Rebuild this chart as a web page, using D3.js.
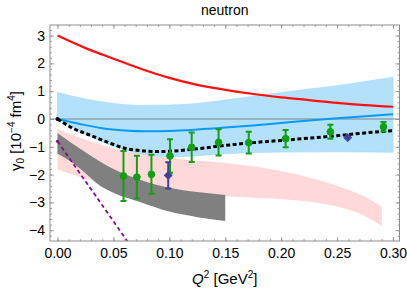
<!DOCTYPE html>
<html>
<head>
<meta charset="utf-8">
<script src="https://cdn.jsdelivr.net/npm/d3@7"></script>
<style>
  body { margin: 0; background: #fff; }
  text { font-family: "Liberation Sans", Arial, sans-serif; }
</style>
</head>
<body>
<svg></svg>
<script>
// curves, Q2 in GeV^2, gamma0 in 1e-4 fm^4
const redLine = [[0,3.0],[0.025,2.55],[0.05,2.17],[0.075,1.8],[0.1,1.48],[0.125,1.23],[0.15,1.05],
                 [0.175,0.9],[0.2,0.78],[0.225,0.68],[0.25,0.58],[0.275,0.5],[0.3,0.44]];
const blueLine = [[0,0],[0.02,-0.18],[0.04,-0.33],[0.06,-0.41],[0.08,-0.44],[0.1,-0.43],[0.125,-0.38],
                  [0.15,-0.31],[0.175,-0.23],[0.2,-0.14],[0.225,-0.05],[0.25,0.03],[0.275,0.1],[0.3,0.17]];
const blueBandUp = [[0,0.95],[0.025,0.72],[0.05,0.56],[0.075,0.49],[0.1,0.5],[0.125,0.56],[0.15,0.68],
                    [0.175,0.82],[0.2,0.95],[0.225,1.08],[0.25,1.2],[0.275,1.35],[0.3,1.5]];
const blueBandLo = [[0,0],[0.025,-0.55],[0.05,-0.98],[0.075,-1.25],[0.1,-1.36],[0.125,-1.32],[0.15,-1.25],
                    [0.2,-1.19],[0.25,-1.18],[0.3,-1.2]];
const pinkUp = [[0,-0.35],[0.025,-0.75],[0.05,-1.05],[0.075,-1.25],[0.1,-1.4],[0.125,-1.5],[0.15,-1.58],
                [0.175,-1.7],[0.2,-1.88],[0.225,-2.1],[0.25,-2.4],[0.275,-2.8],[0.29,-3.15]];
const pinkLo = [[0,-1.82],[0.025,-2.15],[0.05,-2.4],[0.075,-2.55],[0.1,-2.65],[0.125,-2.72],[0.15,-2.78],
                [0.175,-2.83],[0.2,-2.88],[0.225,-2.98],[0.25,-3.15],[0.275,-3.5],[0.29,-3.85]];
const grayUp = [[0,-0.5],[0.025,-1.2],[0.038,-1.53],[0.05,-1.8],[0.075,-2.2],[0.1,-2.47],[0.125,-2.63],[0.15,-2.73]];
const grayLo = [[0,-1.24],[0.015,-1.62],[0.025,-1.95],[0.038,-2.4],[0.05,-2.65],[0.075,-3.0],[0.1,-3.33],[0.125,-3.53],[0.15,-3.67]];
const purpleLine = [[0,-0.8],[0.02,-1.95],[0.04,-3.1],[0.065,-4.55]];
const blackLine = [[0,0],[0.014,-0.34],[0.029,-0.58],[0.044,-0.82],[0.06,-1.05],[0.075,-1.14],[0.09,-1.17],
                   [0.1,-1.16],[0.125,-1.07],[0.15,-0.95],[0.175,-0.85],[0.2,-0.77],[0.225,-0.69],
                   [0.25,-0.6],[0.275,-0.5],[0.3,-0.42]];

// data points: Q2, value, error
const greenQ2  = [0.059, 0.071, 0.084, 0.1006, 0.12, 0.144, 0.171, 0.204, 0.244, 0.2915];
const greenVal = [-2.05, -2.09, -1.99, -1.33, -1.02, -0.84, -0.85, -0.71, -0.46, -0.28];
const greenErr = [0.9, 0.77, 0.7, 0.6, 0.53, 0.47, 0.39, 0.31, 0.25, 0.17];
const blueQ2  = [0.099, 0.2595];
const blueVal = [-2.03, -0.67];
const blueErr = [0.47, 0];

const xTicks = [0, 0.05, 0.1, 0.15, 0.2, 0.25, 0.3];
const yTicks = [-4, -3, -2, -1, 0, 1, 2, 3];

const W = 407, H = 290;
const svg = d3.select("svg").attr("width", W).attr("height", H);

const x = d3.scaleLinear().domain([0, 0.3]).range([57.5, 393]);
const y = d3.scaleLinear().domain([0, 3]).range([119, 35.6]);
const pLeft = 50, pRight = 399.5, pTop = 25, pBottom = 241;
const xDom = [x.invert(pLeft), x.invert(pRight)];
const yDom = [y.invert(pBottom), y.invert(pTop)];

svg.append("clipPath").attr("id", "clip")
   .append("rect").attr("x", pLeft).attr("y", pTop)
   .attr("width", pRight - pLeft).attr("height", pBottom - pTop);

const plot = svg.append("g").attr("clip-path", "url(#clip)");

const line = d3.line().x(d => x(d[0])).y(d => y(d[1])).curve(d3.curveMonotoneX);

function band(up, lo, fill, stroke) {
  const upPath = line(up);
  const loPath = line(lo.slice().reverse());
  plot.append("path")
      .attr("d", upPath + "L" + loPath.slice(1) + "Z")
      .attr("fill", fill)
      .attr("stroke", stroke || "none")
      .attr("stroke-width", 0.6);
}

band(pinkUp, pinkLo, "#ffd9da");
band(blueBandUp, blueBandLo, "#b3e1fb", "#9dd6f8");
band(grayUp, grayLo, "#808080");

// zero line
plot.append("line")
    .attr("x1", pLeft).attr("x2", pRight)
    .attr("y1", y(0)).attr("y2", y(0))
    .attr("stroke", "#6f6f6f").attr("stroke-width", 0.8);

plot.append("path").datum(blueLine).attr("d", line)
    .attr("fill", "none").attr("stroke", "#0a9af5").attr("stroke-width", 2);
plot.append("path").datum(redLine).attr("d", line)
    .attr("fill", "none").attr("stroke", "#ff1010").attr("stroke-width", 2.2);
plot.append("path").datum(purpleLine).attr("d", line)
    .attr("fill", "none").attr("stroke", "#80108a").attr("stroke-width", 1.8)
    .attr("stroke-dasharray", "4,3");
plot.append("path").datum(blackLine).attr("d", line)
    .attr("fill", "none").attr("stroke", "#000").attr("stroke-width", 3)
    .attr("stroke-dasharray", "4,2.5");
plot.append("circle").attr("cx", x(0)).attr("cy", y(0)).attr("r", 2).attr("fill", "#000");
plot.append("circle").attr("cx", x(0)).attr("cy", y(-0.8)).attr("r", 1.6).attr("fill", "#80108a");

// error bars and points
function points(q2s, vals, errs, color, shape, size, rot) {
  const g = plot.append("g");
  q2s.forEach((q, i) => {
    const cx = x(q), cy = y(vals[i]);
    if (errs[i] > 0) {
      const y1 = y(vals[i] + errs[i]), y2 = y(vals[i] - errs[i]);
      g.append("line").attr("x1", cx).attr("x2", cx).attr("y1", y1).attr("y2", y2)
       .attr("stroke", color).attr("stroke-width", 2);
      [y1, y2].forEach(yy => g.append("line")
        .attr("x1", cx - 3).attr("x2", cx + 3).attr("y1", yy).attr("y2", yy)
        .attr("stroke", color).attr("stroke-width", 2));
    }
    g.append("path")
     .attr("transform", "translate(" + cx + "," + cy + ") rotate(" + rot + ")")
     .attr("d", d3.symbol().type(shape).size(size)())
     .attr("fill", color)
     .attr("stroke", color).attr("stroke-width", 1).attr("stroke-linejoin", "round");
  });
}
points(greenQ2, greenVal, greenErr, "#12a012", d3.symbolCircle, 36, 0);
points(blueQ2, blueVal, blueErr, "#3f3f9c", d3.symbolSquare, 28, 45);

// frame and ticks
const frameColor = "#8c8c8c";
const xs = d3.scaleLinear().domain(xDom).range([pLeft, pRight]);
const ys = d3.scaleLinear().domain(yDom).range([pBottom, pTop]);
const xMinor = d3.range(0, 0.3001, 0.01);
const yMinor = d3.range(-4.2, 3.3, 0.2).map(v => Math.round(v * 10) / 10);

function axis(gen, scale, vals, size, fmt, tr) {
  const a = svg.append("g").attr("transform", tr)
     .call(gen(scale).tickValues(vals).tickSize(size).tickPadding(5).tickFormat(fmt));
  a.select(".domain").remove();
  a.selectAll("line").attr("stroke", frameColor).attr("stroke-width", 0.8);
  a.selectAll("text").attr("fill", "#000").style("font-size", "14px");
  return a;
}
const none = () => "";
axis(d3.axisBottom, xs, xMinor, -2, none, "translate(0," + pBottom + ")");
axis(d3.axisBottom, xs, xTicks, -4, d3.format(".2f"), "translate(0," + pBottom + ")")
  .selectAll("text").attr("dy", "0.85em");
axis(d3.axisTop, xs, xMinor, -2, none, "translate(0," + pTop + ")");
axis(d3.axisTop, xs, xTicks, -4, none, "translate(0," + pTop + ")");
axis(d3.axisLeft, ys, yMinor, -2, none, "translate(" + pLeft + ",0)");
axis(d3.axisLeft, ys, yTicks, -4, d3.format("d"), "translate(" + pLeft + ",0)");
axis(d3.axisRight, ys, yMinor, -2, none, "translate(" + pRight + ",0)");
axis(d3.axisRight, ys, yTicks, -4, none, "translate(" + pRight + ",0)");

svg.append("rect").attr("x", pLeft).attr("y", pTop)
   .attr("width", pRight - pLeft).attr("height", pBottom - pTop)
   .attr("fill", "none").attr("stroke", frameColor).attr("stroke-width", 1);

// title and axis labels
svg.append("text").attr("x", (pLeft + pRight) / 2).attr("y", 15)
   .attr("text-anchor", "middle").style("font-size", "14px").text("neutron");

const xl = svg.append("text").attr("x", (pLeft + pRight) / 2).attr("y", 284)
   .attr("text-anchor", "middle").style("font-size", "15px");
xl.append("tspan").style("font-style", "italic").text("Q");
xl.append("tspan").attr("dy", -6).style("font-size", "10px").text("2");
xl.append("tspan").attr("dy", 6).text(" [GeV");
xl.append("tspan").attr("dy", -6).style("font-size", "10px").text("2");
xl.append("tspan").attr("dy", 6).text("]");

const yl = svg.append("text")
   .attr("transform", "translate(21," + 131 + ") rotate(-90)")
   .attr("text-anchor", "middle").style("font-size", "15px");
yl.append("tspan").text("γ");
yl.append("tspan").attr("dy", 3).style("font-size", "10px").text("0");
yl.append("tspan").attr("dy", -3).text(" [10");
yl.append("tspan").attr("dy", -6).style("font-size", "10px").text("−4");
yl.append("tspan").attr("dy", 6).text(" fm");
yl.append("tspan").attr("dy", -6).style("font-size", "10px").text("4");
yl.append("tspan").attr("dy", 6).text("]");
</script>
</body>
</html>
